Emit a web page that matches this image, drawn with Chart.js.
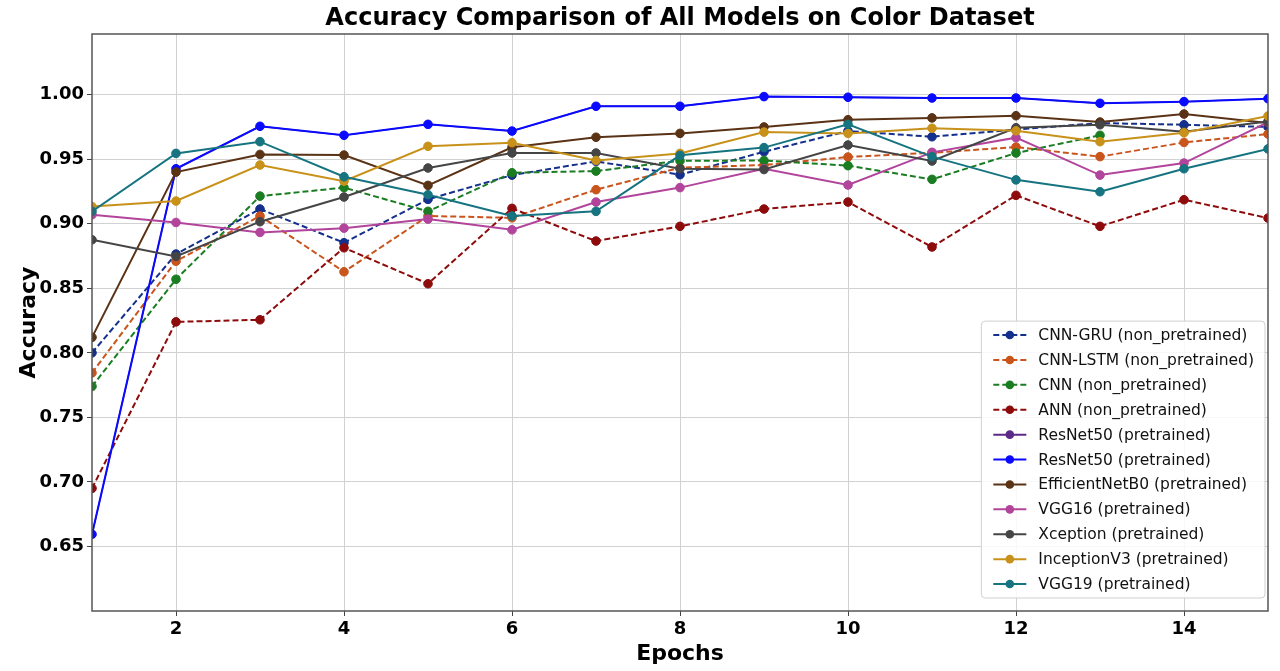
<!DOCTYPE html>
<html>
<head>
<meta charset="utf-8">
<script src="https://cdn.jsdelivr.net/npm/chart.js@4.4.1/dist/chart.umd.min.js"></script>
<style>
html,body{margin:0;padding:0;background:#ffffff;}
#wrap{width:1280px;height:671px;position:relative;}
</style>
</head>
<body>
<div id="wrap"><canvas id="c"></canvas></div>
<script>
// ---- data ----
const epochs = [1,2,3,4,5,6,7,8,9,10,11,12,13,14,15];
const xTickValues = [2,4,6,8,10,12,14];
const yTickValues = [0.65,0.70,0.75,0.80,0.85,0.90,0.95,1.00];

const cnnGru   = [0.800,0.8765,0.9114,0.8853,0.9189,0.9377,0.9483,0.938,0.9558,0.9718,0.9674,0.973,0.978,0.9767,0.975];
const cnnLstm  = [0.7845,0.871,0.906,0.8628,0.906,0.9046,0.9264,0.9434,0.9455,0.9517,0.955,0.9594,0.952,0.963,0.9695];
const cnn      = [0.774,0.857,0.9214,0.928,0.9096,0.9395,0.9408,0.9488,0.949,0.945,0.9344,0.9548,0.9685];
const ann      = [0.695,0.824,0.8256,0.8814,0.8535,0.9119,0.8866,0.898,0.9114,0.9168,0.882,0.922,0.898,0.9186,0.9044];
const resnetA  = [0.6594,0.9426,0.9755,0.9685,0.977,0.9718,0.991,0.991,0.9985,0.998,0.9974,0.9974,0.9933,0.9946,0.9969];
const resnetB  = [0.6594,0.9426,0.9755,0.9685,0.977,0.9718,0.991,0.991,0.9985,0.998,0.9974,0.9974,0.9933,0.9946,0.9969];
const effNet   = [0.812,0.940,0.9537,0.9532,0.9297,0.9592,0.967,0.970,0.975,0.9806,0.982,0.9837,0.9788,0.985,0.978];
const vgg16    = [0.907,0.901,0.8933,0.8966,0.9036,0.8953,0.9168,0.928,0.9426,0.930,0.9553,0.9667,0.9377,0.947,0.9788];
const xception = [0.8876,0.8747,0.9016,0.9207,0.9432,0.9548,0.9548,0.9426,0.942,0.961,0.9486,0.9744,0.9767,0.9713,0.9793];
const inception= [0.9133,0.9176,0.9455,0.933,0.960,0.9628,0.949,0.9545,0.971,0.970,0.974,0.972,0.9636,0.9705,0.9835];
const vgg19    = [0.9096,0.9545,0.9636,0.9364,0.9225,0.906,0.9096,0.953,0.959,0.977,0.952,0.934,0.9248,0.9426,0.958];

const seriesLabels = [
  'CNN-GRU (non_pretrained)','CNN-LSTM (non_pretrained)','CNN (non_pretrained)','ANN (non_pretrained)',
  'ResNet50 (pretrained)','ResNet50 (pretrained)','EfficientNetB0 (pretrained)','VGG16 (pretrained)',
  'Xception (pretrained)','InceptionV3 (pretrained)','VGG19 (pretrained)'
];
const seriesValues = [cnnGru,cnnLstm,cnn,ann,resnetA,resnetB,effNet,vgg16,xception,inception,vgg19];

// ---- styles ----
const seriesColors = ['#142f8c','#c9541c','#1b7d22','#8e0b0b','#5b2a86','#0a0aff','#5a3215','#b2449c','#454545','#c8921a','#157480'];
const seriesDashed = [true,true,true,true,false,false,false,false,false,false,false];
const seriesWidths = [2,2,2,2,1.4,2,2,2,2,2,2];
const FONT = '"DejaVu Sans", "Liberation Sans", sans-serif';

const datasets = seriesValues.map((vals, i) => ({
  label: seriesLabels[i],
  data: vals,
  borderColor: seriesColors[i],
  backgroundColor: seriesColors[i],
  pointBackgroundColor: seriesColors[i],
  pointBorderColor: seriesColors[i],
  borderWidth: seriesWidths[i],
  borderDash: seriesDashed[i] ? [6,3] : [],
  pointRadius: seriesWidths[i] < 2 ? 3.6 : 4.3,
  pointBorderWidth: 1,
  tension: 0,
  fill: false,
  clip: 0,
  order: seriesValues.length - i
}));

const framePlugin = {
  id: 'frameAndLegend',
  afterDatasetsDraw(chart) {
    const ctx = chart.ctx, ca = chart.chartArea;
    ctx.save();
    // axes frame
    ctx.strokeStyle = '#555555';
    ctx.lineWidth = 1.5;
    ctx.strokeRect(ca.left, ca.top, ca.right - ca.left, ca.bottom - ca.top);

    // legend
    const fs = 15.5;
    ctx.font = fs + 'px ' + FONT;
    const ds = chart.data.datasets;
    let maxW = 0;
    ds.forEach(d => { maxW = Math.max(maxW, ctx.measureText(d.label).width); });
    const rowH = 24.9, padV = 1.5, padL = 12, sampleLen = 33, gap = 12, padR = 11;
    const w = padL + sampleLen + gap + maxW + padR;
    const h = rowH * ds.length + 2 * padV;
    const x0 = ca.right - 3 - w, y0 = ca.bottom - 13 - h;
    ctx.beginPath();
    ctx.roundRect(x0, y0, w, h, 4);
    ctx.fillStyle = 'rgba(255,255,255,0.85)';
    ctx.fill();
    ctx.strokeStyle = '#d0d0d0';
    ctx.lineWidth = 1;
    ctx.stroke();
    ds.forEach((d, i) => {
      const cy = y0 + padV + rowH * (i + 0.5);
      const sx = x0 + padL;
      ctx.beginPath();
      ctx.setLineDash(d.borderDash || []);
      ctx.strokeStyle = d.borderColor;
      ctx.lineWidth = 2;
      ctx.moveTo(sx, cy);
      ctx.lineTo(sx + sampleLen, cy);
      ctx.stroke();
      ctx.setLineDash([]);
      ctx.beginPath();
      ctx.arc(sx + sampleLen / 2, cy, 4.3, 0, Math.PI * 2);
      ctx.fillStyle = d.pointBackgroundColor;
      ctx.fill();
      ctx.fillStyle = '#111111';
      ctx.textBaseline = 'middle';
      ctx.textAlign = 'left';
      ctx.fillText(d.label, sx + sampleLen + gap, cy + 1);
    });
    ctx.restore();
  }
};

new Chart(document.getElementById('c'), {
  type: 'line',
  data: { labels: epochs, datasets },
  plugins: [framePlugin],
  options: {
    responsive: true,
    maintainAspectRatio: false,
    animation: false,
    devicePixelRatio: 1,
    layout: { padding: { left: 0, right: 12, top: 0, bottom: 0 } },
    plugins: {
      legend: { display: false },
      tooltip: { enabled: false },
      title: {
        display: true,
        text: 'Accuracy Comparison of All Models on Color Dataset',
        color: '#000000',
        font: { family: FONT, size: 24, weight: 'bold' },
        padding: { top: 4, bottom: 1.2 },
        fullSize: false
      }
    },
    scales: {
      x: {
        type: 'linear',
        min: 1, max: 15,
        afterBuildTicks(scale) { scale.ticks = xTickValues.map(v => ({ value: v })); },
        afterFit(scale) { scale.height = 60; },
        ticks: {
          color: '#000000',
          font: { family: FONT, size: 18, weight: 'bold' },
          padding: 3,
          maxRotation: 0,
          callback: v => String(v)
        },
        grid: { color: '#d2d2d2', lineWidth: 1, drawTicks: true, tickLength: 5, tickColor: '#444444' },
        border: { display: false },
        title: {
          display: true, text: 'Epochs', color: '#000000',
          font: { family: FONT, size: 22, weight: 'bold' },
          padding: { top: 0, bottom: 4 }
        }
      },
      y: {
        type: 'linear',
        min: 0.6, max: 1.047,
        afterBuildTicks(scale) { scale.ticks = yTickValues.map(v => ({ value: v })); },
        afterFit(scale) { scale.width = 92; },
        ticks: {
          color: '#000000',
          font: { family: FONT, size: 18, weight: 'bold' },
          padding: 3,
          callback: v => Number(v).toFixed(2)
        },
        grid: { color: '#d2d2d2', lineWidth: 1, drawTicks: true, tickLength: 5, tickColor: '#444444' },
        border: { display: false },
        title: {
          display: true, text: 'Accuracy', color: '#000000',
          font: { family: FONT, size: 22, weight: 'bold' },
          padding: { top: 16, bottom: 0 }
        }
      }
    }
  }
});
</script>
</body>
</html>
